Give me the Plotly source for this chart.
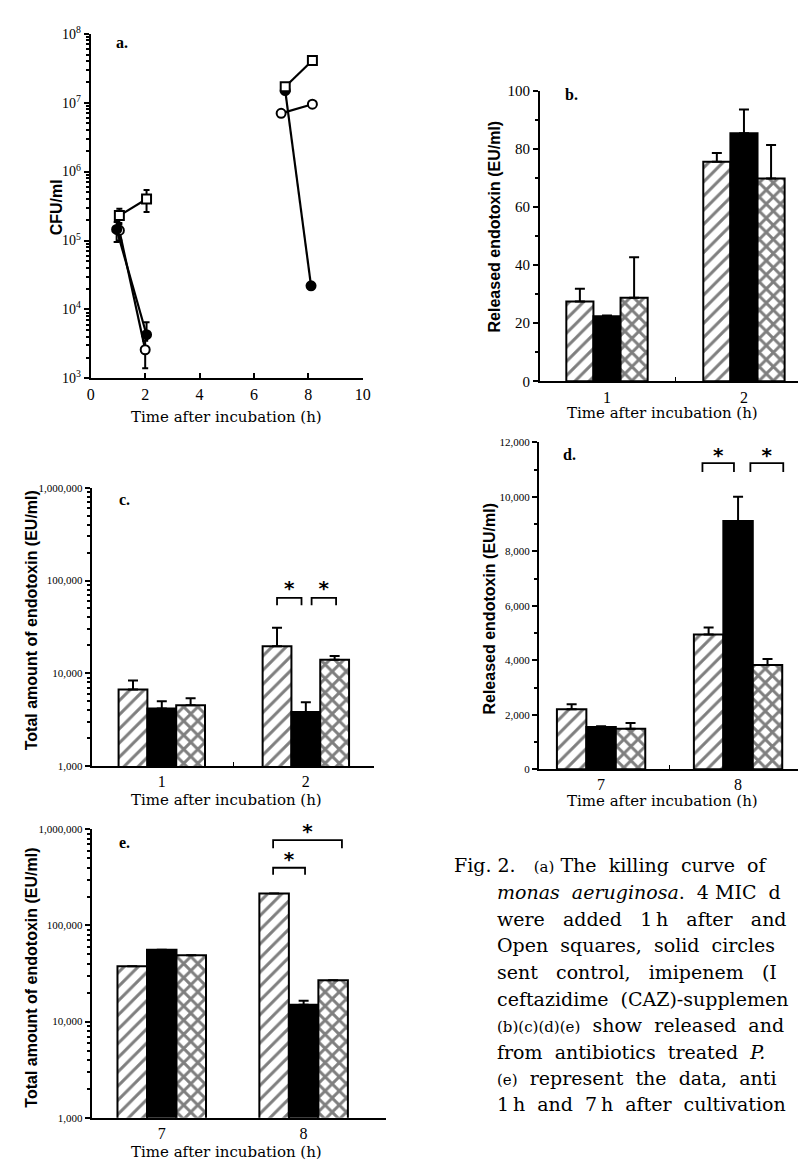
import plotly.graph_objects as go

W, H = 806, 1167

# ---------------- data ----------------
# Panel a: killing curve (CFU/ml)
a_t_ctrl = [1.05, 2.05, None, 7.15, 8.15]
a_ctrl = [2.3e5, 4.0e5, None, 1.7e7, 4.1e7]
a_ctrl_up = [0.6e5, 1.4e5, 0, 0, 0]
a_ctrl_dn = [0.5e5, 1.4e5, 0, 0, 0]

a_t_ipm = [0.95, 2.05, None, 7.15, 8.1]
a_ipm = [1.45e5, 4.3e3, None, 1.5e7, 2.2e4]
a_ipm_up = [0.4e5, 2.2e3, 0, 0, 0]
a_ipm_dn = [0.5e5, 0, 0, 0, 0]

a_t_caz = [1.05, 2.0, None, 7.0, 8.15]
a_caz = [1.4e5, 2.6e3, None, 7.0e6, 9.5e6]
a_caz_up = [0.3e5, 0.9e3, 0, 0, 0]
a_caz_dn = [0.4e5, 1.2e3, 0, 0, 0]

a_xticks = [0, 2, 4, 6, 8, 10]
a_yticks = [1e3, 1e4, 1e5, 1e6, 1e7, 1e8]
a_yticktext = ["10<sup>3</sup>", "10<sup>4</sup>", "10<sup>5</sup>",
               "10<sup>6</sup>", "10<sup>7</sup>", "10<sup>8</sup>"]

# Panel b: released endotoxin, 1-2 h
b_time = [1, 2]
b_ctrl = [27.5, 75.6]
b_ctrl_err = [4.4, 3.0]
b_ipm = [22.4, 85.4]
b_ipm_err = [0.3, 8.2]
b_caz = [28.8, 69.8]
b_caz_err = [13.9, 11.6]

# Panel c: total endotoxin, 1-2 h
c_time = [1, 2]
c_ctrl = [6700, 19600]
c_ctrl_err = [1700, 11400]
c_ipm = [4200, 3830]
c_ipm_err = [800, 1070]
c_caz = [4550, 14000]
c_caz_err = [850, 1400]

# Panel d: released endotoxin, 7-8 h
d_time = [7, 8]
d_ctrl = [2200, 4950]
d_ctrl_err = [190, 250]
d_ipm = [1550, 9110]
d_ipm_err = [30, 890]
d_caz = [1490, 3830]
d_caz_err = [210, 220]

# Panel e: total endotoxin, 7-8 h
e_time = [7, 8]
e_ctrl = [37700, 215000]
e_ctrl_err = [0, 0]
e_ipm = [56000, 15000]
e_ipm_err = [0, 1500]
e_caz = [49000, 27000]
e_caz_err = [0, 0]

log_ticks = [1e3, 1e4, 1e5, 1e6]
log_ticktext = ["1,000", "10,000", "100,000", "1,000,000"]
d_ticks = [0, 2000, 4000, 6000, 8000, 10000, 12000]
d_ticktext = ["0", "2,000", "4,000", "6,000", "8,000", "10,000", "12,000"]

# significance brackets: (x0, x1, y_top, y_leg, y_star)
c_brackets = [(1.80, 1.97, 65000, 54000, 80000), (2.04, 2.21, 65000, 54000, 80000)]
d_brackets = [(7.74, 7.97, 11240, 10915, 11450), (8.09, 8.33, 11240, 10915, 11450)]
e_brackets = [(7.785, 8.01, 398000, 337000, 470000), (7.785, 8.27, 770000, 634000, 910000)]

caption_lines = [
    "Fig.\u00a02.\u00a0\u00a0 <span style='font-size:15px'>(a)</span>\u00a0The\u00a0 killing\u00a0 curve\u00a0 of",
    "<i>monas\u00a0 aeruginosa</i>.\u00a0 4\u00a0MIC\u00a0 d",
    "were\u00a0\u00a0 added\u00a0\u00a0 1\u2009h\u00a0\u00a0 after\u00a0\u00a0 and",
    "Open\u00a0 squares,\u00a0 solid\u00a0 circles",
    "sent\u00a0\u00a0 control,\u00a0\u00a0 imipenem\u00a0\u00a0 (I",
    "ceftazidime\u00a0 (CAZ)-supplemen",
    "<span style='font-size:15px'>(b)(c)(d)(e)</span>\u00a0 show\u00a0 released\u00a0 and",
    "from\u00a0 antibiotics\u00a0 treated\u00a0 <i>P.</i>",
    "<span style='font-size:15px'>(e)</span>\u00a0 represent\u00a0 the\u00a0 data,\u00a0 anti",
    "1\u2009h\u00a0 and\u00a0 7\u2009h\u00a0 after\u00a0 cultivation",
]

# ---------------- helpers ----------------
def fx(p):
    return p / W


def fy(p):
    return 1 - p / H


fig = go.Figure()

# ---- panel a ----
def a_series(x, y, up, dn, symbol, fill):
    fig.add_trace(go.Scatter(
        x=x, y=y, mode="lines+markers", xaxis="x", yaxis="y",
        line=dict(color="black", width=2.2),
        marker=dict(symbol=symbol, size=9, color=fill, line=dict(color="black", width=2)),
        error_y=dict(type="data", array=up, arrayminus=dn, symmetric=False,
                     color="black", thickness=2, width=3),
        showlegend=False, hoverinfo="skip"))

a_series(a_t_caz, a_caz, a_caz_up, a_caz_dn, "circle", "white")
a_series(a_t_ipm, a_ipm, a_ipm_up, a_ipm_dn, "circle", "black")
a_series(a_t_ctrl, a_ctrl, a_ctrl_up, a_ctrl_dn, "square", "white")

# ---- bar panels ----
def bars(xa, ya, x, series, w):
    styles = [
        dict(color="white", line=dict(color="black", width=2),
             pattern=dict(shape="/", fgcolor="black", bgcolor="white", size=10, solidity=0.3)),
        dict(color="black", line=dict(color="black", width=2)),
        dict(color="white", line=dict(color="black", width=2),
             pattern=dict(shape="x", fgcolor="black", bgcolor="white", size=10, solidity=0.5)),
    ]
    for k, (vals, errs) in enumerate(series):
        fig.add_trace(go.Bar(
            x=x, y=vals, xaxis=xa, yaxis=ya, width=w, offset=-1.5 * w + k * w,
            marker=styles[k],
            error_y=dict(type="data", array=errs, arrayminus=[0] * len(errs), symmetric=False,
                         color="black", thickness=2, width=5),
            showlegend=False, hoverinfo="skip"))


bars("x2", "y2", b_time, [(b_ctrl, b_ctrl_err), (b_ipm, b_ipm_err), (b_caz, b_caz_err)], 0.198)
bars("x3", "y3", c_time, [(c_ctrl, c_ctrl_err), (c_ipm, c_ipm_err), (c_caz, c_caz_err)], 0.20)
bars("x4", "y4", d_time, [(d_ctrl, d_ctrl_err), (d_ipm, d_ipm_err), (d_caz, d_caz_err)], 0.215)
bars("x5", "y5", e_time, [(e_ctrl, e_ctrl_err), (e_ipm, e_ipm_err), (e_caz, e_caz_err)], 0.208)


def brackets(xa, ya, items):
    for x0, x1, yt, yl, ys in items:
        fig.add_trace(go.Scatter(
            x=[x0, x0, x1, x1], y=[yl, yt, yt, yl], xaxis=xa, yaxis=ya, mode="lines",
            line=dict(color="black", width=1.8), showlegend=False, hoverinfo="skip",
            cliponaxis=False))
        fig.add_trace(go.Scatter(
            x=[(x0 + x1) / 2], y=[ys], xaxis=xa, yaxis=ya, mode="text", text=["*"],
            textfont=dict(family="DejaVu Sans", size=20, color="black", weight="bold"),
            textposition="middle center", showlegend=False, hoverinfo="skip",
            cliponaxis=False))


brackets("x3", "y3", c_brackets)
brackets("x4", "y4", d_brackets)
brackets("x5", "y5", e_brackets)

# ---------------- axes ----------------
base = dict(showline=True, linecolor="black", linewidth=2, showgrid=False, zeroline=False,
            tickcolor="black", tickwidth=1.5, ticklen=5,
            tickfont=dict(family="Liberation Serif", size=15, color="black"))


def ax(**kw):
    d = dict(base)
    d.update(kw)
    return d


log_minor_a = [m * 10 ** e for e in range(3, 8) for m in range(2, 10)]
log_minor_ce = [m * 10 ** e for e in range(3, 6) for m in range(2, 10)]

layout = dict(
    width=W, height=H, margin=dict(l=0, r=0, t=0, b=0),
    paper_bgcolor="white", plot_bgcolor="rgba(0,0,0,0)",
    barmode="overlay",
    font=dict(family="Liberation Serif", color="black"),
    xaxis=ax(domain=[fx(80), fx(356)], range=[0, 10], anchor="y", tickvals=a_xticks,
             ticks="inside", tickfont=dict(family="Liberation Serif", size=16, color="black")),
    yaxis=ax(domain=[fy(366), fy(16)], type="log", range=[3, 8], anchor="x", ticks="outside",
             tickvals=a_yticks, ticktext=a_yticktext,
             tickfont=dict(family="Liberation Serif", size=14, color="black"),
             minor=dict(tickvals=log_minor_a, ticks="outside", ticklen=3, tickcolor="black")),
    xaxis2=ax(domain=[fx(536), 1], range=[0.511, 2.453], anchor="y2", tickvals=b_time, ticks="",
              tickfont=dict(family="Liberation Serif", size=16, color="black"),
              minor=dict(tickvals=[1.5], ticks="inside", ticklen=4, tickcolor="black")),
    yaxis2=ax(domain=[fy(369), fy(74)], range=[0, 100], anchor="x2", ticks="outside",
              tickvals=[0, 20, 40, 60, 80, 100],
              minor=dict(dtick=10, ticks="outside", ticklen=3, tickcolor="black")),
    xaxis3=ax(domain=[fx(81), fx(367)], range=[0.514, 2.47], anchor="y3", tickvals=c_time, ticks="",
              tickfont=dict(family="Liberation Serif", size=16, color="black"),
              minor=dict(tickvals=[1.5], ticks="inside", ticklen=4, tickcolor="black")),
    yaxis3=ax(domain=[fy(760), fy(477)], type="log", range=[3, 6], anchor="x3", ticks="outside",
              tickvals=log_ticks, ticktext=log_ticktext,
              tickfont=dict(family="Liberation Serif", size=11, color="black"),
              minor=dict(tickvals=log_minor_ce, ticks="outside", ticklen=3, tickcolor="black")),
    xaxis4=ax(domain=[fx(535), 1], range=[6.547, 8.496], anchor="y4", tickvals=d_time, ticks="",
              tickfont=dict(family="Liberation Serif", size=16, color="black"),
              minor=dict(tickvals=[7.5], ticks="inside", ticklen=4, tickcolor="black")),
    yaxis4=ax(domain=[fy(763), fy(431)], range=[0, 12000], anchor="x4", ticks="outside",
              tickvals=d_ticks, ticktext=d_ticktext,
              tickfont=dict(family="Liberation Serif", size=11, color="black"),
              minor=dict(dtick=1000, ticks="outside", ticklen=3, tickcolor="black")),
    xaxis5=ax(domain=[fx(81), fx(380)], range=[6.507, 8.583], anchor="y5", tickvals=e_time, ticks="",
              tickfont=dict(family="Liberation Serif", size=16, color="black")),
    yaxis5=ax(domain=[fy(1117), fy(824)], type="log", range=[3, 6], anchor="x5", ticks="outside",
              tickvals=log_ticks, ticktext=log_ticktext,
              tickfont=dict(family="Liberation Serif", size=11, color="black"),
              minor=dict(tickvals=log_minor_ce, ticks="outside", ticklen=3, tickcolor="black")),
)
fig.update_layout(**layout)

# ---------------- text annotations ----------------
ann = []
xt_font = dict(family="DejaVu Serif", size=15, color="black")
yt_font = dict(family="Liberation Sans", size=16, color="black", weight="bold")
lab_font = dict(family="Liberation Serif", size=16, color="black", weight="bold")

xtitle = "Time after incubation (h)"
for cx, cy in [(218, 405), (660, 401), (218, 794), (660, 795), (218, 1152)]:
    ann.append(dict(x=fx(cx), y=fy(cy), text=xtitle, font=xt_font))

for cx, cy, t in [(45, 192, "CFU/ml"), (490, 212, "Released endotoxin (EU/ml)"),
                  (20, 612, "Total amount of endotoxin (EU/ml)"),
                  (485, 600, "Released endotoxin (EU/ml)"),
                  (20, 975, "Total amount of endotoxin (EU/ml)")]:
    ann.append(dict(x=fx(cx), y=fy(cy), text=t, textangle=-90, font=yt_font))

for cx, cy, t in [(112, 25, "a."), (568, 78, "b."), (114, 489, "c."), (566, 443, "d."),
                  (114, 837, "e.")]:
    ann.append(dict(x=fx(cx), y=fy(cy), text=t, font=lab_font))

cap_font = dict(family="DejaVu Serif", size=19, color="black")
cap_x = [447] + [490] * 9
cap_y = [860, 888, 915, 942, 969, 996, 1023, 1050, 1077, 1103]
for t, cx, cy in zip(caption_lines, cap_x, cap_y):
    ann.append(dict(x=fx(cx), y=fy(cy), text=t, font=cap_font, xanchor="left"))

for a in ann:
    a.setdefault("xref", "paper")
    a.setdefault("yref", "paper")
    a.setdefault("showarrow", False)
    a.setdefault("xanchor", "center")
    a.setdefault("yanchor", "middle")
fig.update_layout(annotations=ann)

fig.write_html("out.html")
